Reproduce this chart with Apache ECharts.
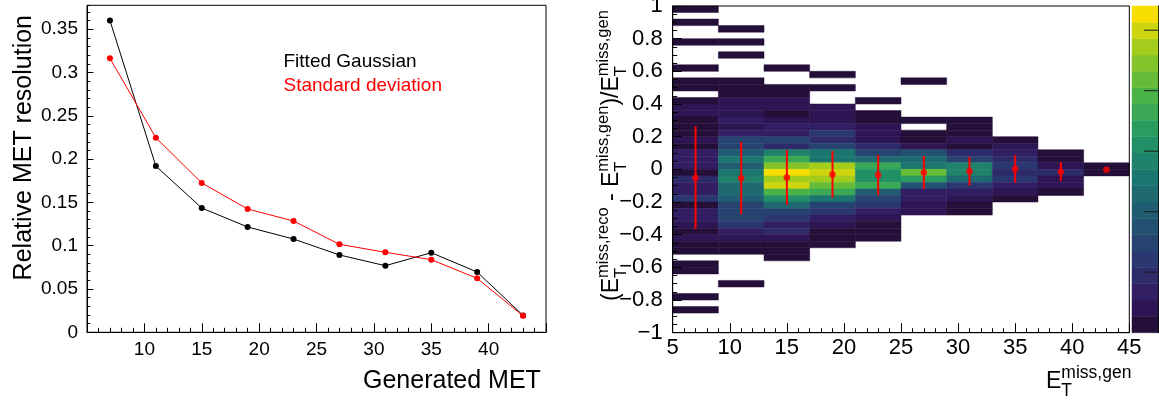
<!DOCTYPE html>
<html><head><meta charset="utf-8">
<script src="https://cdn.jsdelivr.net/npm/echarts@6/dist/echarts.min.js"></script>
<style>html,body{margin:0;padding:0;background:#fff}#c{width:1159px;height:400px}</style>
</head><body><div id="c"></div>
<script>
const FONT = '"Liberation Sans", Arial, Helvetica, sans-serif';

// ---------- Left panel: MET resolution ----------
const metX = [7, 11, 15, 19, 23, 27, 31, 35, 39, 43];
const gaussRes = [0.360, 0.192, 0.1435, 0.1216, 0.1077, 0.0893, 0.0769, 0.0919, 0.0696, 0.0195];
const stdRes = [0.3164, 0.2247, 0.1724, 0.1424, 0.1285, 0.1016, 0.0924, 0.0839, 0.0623, 0.019];
const legendNames = ['Fitted Gaussian', 'Standard deviation'];

// ---------- Right panel: 2D histogram (x bins of 4, y bins of 0.04 counted from y = 1 downward) ----------
const xBinEdges = [5, 9, 13, 17, 21, 25, 29, 33, 37, 41, 45];
const yBinTop = 1;
const yBinWidth = 0.04;
const colFirstBin = [0, 3, 9, 10, 14, 11, 17, 20, 22, 24];
const zCol1 = [0.7, null, 0.7, null, null, 0.7, null, null, null, 0.7,
               null, 0.7, 0.7, null, 0.7, 2.0, 2.0, 0.7, 0.7, 0.7,
               2.0, 0.7, 3.4, 3.4, 3.4, 0.7, 4.7, 3.4, 3.4, 6.1,
               0.7, 3.4, 3.4, 2.0, 0.7, 2.0, 0.7, 0.7, null, 0.7,
               0.7, null, null, null, 0.7, null, 0.7];
const zCol2 = [0.7, null, 0.7, null, 0.7, null, null, null, 0.7, 0.7,
               0.7, 2.0, 2.0, 2.0, 3.4, 2.0, 3.4, 7.4, 7.4, 10.1,
               12.8, 10.1, 12.8, 14.2, 11.5, 11.5, 10.1, 7.4, 7.4, 7.4,
               6.1, 3.4, 2.0, 0.7, 0.7, null, null, null, null, 0.7];
const zCol3 = [0.7, null, null, 0.7, 0.7, 2.0, 2.0, 0.7, 2.0, 3.4,
               3.4, 7.4, 4.7, 14.2, 18.2, 22.3, 26.3, 23.6, 25.0, 19.6,
               15.5, 11.5, 7.4, 6.1, 3.4, 4.7, 2.0, 0.7, 0.7, 0.7];
const zCol4 = [0.7, null, 0.7, null, null, 2.0, 2.0, 2.0, 3.4, 6.1,
               4.7, 7.4, 12.8, 12.8, 23.6, 25.0, 23.6, 20.9, 18.2, 12.8,
               7.4, 6.1, 3.4, 2.0, 0.7, 0.7, 0.7];
const zCol5 = [0.7, null, 0.7, 0.7, 2.0, 2.0, 2.0, 4.7, 7.4, 11.5,
               18.2, 15.5, 15.5, 18.2, 10.1, 7.4, 6.1, 3.4, 2.0, 0.7,
               0.7, 0.7];
const zCol6 = [0.7, null, null, null, null, null, 0.7, null, 0.7, 0.7,
               2.0, 8.8, 11.5, 12.8, 20.9, 16.9, 8.8, 3.4, 3.4, 2.0, 2.0];
const zCol7 = [0.7, 0.7, 0.7, 2.0, 0.7, 4.7, 7.4, 14.2, 14.2, 11.5, 6.1, 3.4, 2.0, 0.7, 0.7];
const zCol8 = [0.7, 2.0, 3.4, 4.7, 6.1, 4.7, 6.1, 3.4, 2.0, 0.7];
const zCol9 = [0.7, 0.7, 2.0, 4.7, 2.0, 2.0, 0.7];
const zCol10 = [0.7, 0.7];

// profile (mean and spread) per x bin
const profX = [7, 11, 15, 19, 23, 27, 31, 35, 39, 43];
const profMean = [-0.051, -0.054, -0.050, -0.031, -0.035, -0.019, -0.011, 0.002, -0.014, -0.002];
const profErr = [0.315, 0.222, 0.168, 0.143, 0.124, 0.101, 0.088, 0.084, 0.058, 0];

// colour scale
const zLevelEdges = [0, 1.35, 2.7, 4.05, 5.4, 6.75, 8.1, 9.45, 10.8, 12.15, 13.5,
                     14.85, 16.2, 17.55, 18.9, 20.25, 21.6, 22.95, 24.3, 25.65, 27];
const viridis20 = ['#240f38', '#2e1553', '#311e63', '#2e2b6a', '#2b3770', '#274471', '#235172',
                   '#205d72', '#1f6a71', '#1c7670', '#1f836c', '#229067', '#2b9c5f', '#3aa854',
                   '#4ab448', '#66bc39', '#82c42a', '#a4cc1c', '#cdd50e', '#f6de00'];
const colorbarTicks = [5, 10, 15, 20, 25];

// ---------- build data ----------
const zColumns = [zCol1, zCol2, zCol3, zCol4, zCol5, zCol6, zCol7, zCol8, zCol9, zCol10];
const cells = [];
zColumns.forEach((col, c) => {
  col.forEach((z, k) => {
    if (z == null) return;
    const i = colFirstBin[c] + k;
    const yTop = +(yBinTop - yBinWidth * i).toFixed(4);
    const yBot = +(yTop - yBinWidth).toFixed(4);
    cells.push([xBinEdges[c], xBinEdges[c + 1], yTop, yBot, z]);
  });
});
const errBars = profX.map((x, i) => [x, profMean[i] - profErr[i], profMean[i] + profErr[i], profErr[i]]);
const profPts = profX.map((x, i) => [x, profMean[i]]);
const cbarData = viridis20.map((c, k) => [k, zLevelEdges[k], zLevelEdges[k + 1]]);
const pieces = viridis20.map((c, k) => ({gte: zLevelEdges[k], lt: zLevelEdges[k + 1], color: c}));

// ---------- text helpers (TLatex-like sub/superscripts) ----------
const mctx = document.createElement('canvas').getContext('2d');
function tw(s, size) { mctx.font = size + 'px ' + FONT; return mctx.measureText(s).width; }
function textEl(s, x, baseline, size) {
  return {type: 'text', x: x, y: baseline - 0.3465 * size,
    style: {text: s, font: size + 'px ' + FONT, fill: '#000', textAlign: 'left',
            textVerticalAlign: 'middle', verticalAlign: 'middle'}};
}
function latex(parts, mainSize, scriptSize, rise, drop) {
  let x = 0; const els = [];
  parts.forEach(p => {
    if (p.t != null) { els.push(textEl(p.t, x, 0, mainSize)); x += tw(p.t, mainSize); }
    else {
      let w = 0;
      if (p.sub) { els.push(textEl(p.sub, x, drop, scriptSize)); w = Math.max(w, tw(p.sub, scriptSize)); }
      if (p.sup) { els.push(textEl(p.sup, x, -rise, scriptSize)); w = Math.max(w, tw(p.sup, scriptSize)); }
      x += w;
    }
  });
  return els;
}
const xTitleParts = [{t: 'E'}, {sub: 'T', sup: 'miss,gen'}];
const yTitleParts = [{t: '(E'}, {sub: 'T', sup: 'miss,reco'}, {t: ' - E'}, {sub: 'T', sup: 'miss,gen'},
                     {t: ')/E'}, {sub: 'T', sup: 'miss,gen'}];

const lblL = {color: '#000', fontFamily: FONT, fontSize: 19};
const lblR = {color: '#000', fontFamily: FONT, fontSize: 22};
const blackLine = {color: '#000', width: 1};

const chart = echarts.init(document.getElementById('c'), null, {renderer: 'canvas'});
chart.setOption({
  animation: false,
  backgroundColor: '#fff',
  grid: [
    {left: 87, top: 5.3, width: 459, height: 327, show: true, borderColor: '#000', borderWidth: 1,
     backgroundColor: 'transparent', outerBoundsMode: 'none', containLabel: false},
    {left: 672.7, top: 6, width: 456.6, height: 326.7, show: true, borderColor: '#000', borderWidth: 1,
     backgroundColor: 'transparent', outerBoundsMode: 'none', containLabel: false, z: 6},
    {left: 1132, top: 6, width: 26, height: 326.7, outerBoundsMode: 'none', containLabel: false},
    {left: 87, top: 5.3, width: 459, height: 327, outerBoundsMode: 'none', containLabel: false}
  ],
  xAxis: [
    {gridIndex: 0, type: 'value', min: 5, max: 45, interval: 5,
     axisLine: {show: true, onZero: false, lineStyle: blackLine},
     axisTick: {show: true, inside: true, length: 9, lineStyle: blackLine},
     minorTick: {show: true, splitNumber: 5, length: 4.5, lineStyle: blackLine},
     axisLabel: Object.assign({margin: 8, showMinLabel: false, showMaxLabel: false}, lblL),
     splitLine: {show: false}},
    {gridIndex: 1, type: 'value', min: 5, max: 45, interval: 5, z: 6,
     axisLine: {show: true, onZero: false, lineStyle: blackLine},
     axisTick: {show: true, inside: true, length: 9.5, lineStyle: blackLine},
     minorTick: {show: true, splitNumber: 5, length: 4.5, lineStyle: blackLine},
     axisLabel: Object.assign({margin: 4}, lblR),
     splitLine: {show: false}},
    {gridIndex: 2, type: 'value', min: 0, max: 1, show: false},
    {gridIndex: 3, type: 'value', min: 5, max: 45, show: false}
  ],
  yAxis: [
    {gridIndex: 0, type: 'value', min: 0, max: 0.3776, interval: 0.05,
     axisLine: {show: true, onZero: false, lineStyle: blackLine},
     axisTick: {show: true, inside: true, length: 6.5, lineStyle: blackLine},
     axisLabel: Object.assign({margin: 9, showMaxLabel: false}, lblL),
     splitLine: {show: false}},
    {gridIndex: 1, type: 'value', min: -1, max: 1, interval: 0.2, z: 6,
     axisLine: {show: true, onZero: false, lineStyle: blackLine},
     axisTick: {show: true, inside: true, length: 9, lineStyle: blackLine},
     minorTick: {show: true, splitNumber: 4, length: 4.5, lineStyle: blackLine},
     axisLabel: Object.assign({margin: 10, formatter: v => {
        const r = Math.round(v * 10) / 10; return (r === 0 ? '0' : String(r)).replace('-', '\u2212'); }}, lblR),
     splitLine: {show: false}},
    {gridIndex: 2, type: 'value', min: 0, max: 27, position: 'right',
     axisLine: {show: true, onZero: false, lineStyle: {color: '#000', width: 1}},
     axisTick: {show: false}, axisLabel: {show: false}, splitLine: {show: false}},
    {gridIndex: 3, type: 'value', min: 0, max: 0.3776, interval: 0.01,
     axisLine: {show: false, onZero: false},
     axisTick: {show: true, inside: true, length: 3.3, lineStyle: blackLine},
     axisLabel: {show: false}, splitLine: {show: false}}
  ],
  visualMap: {type: 'piecewise', show: false, seriesIndex: 2, dimension: 4, pieces: pieces},
  series: [
    {name: legendNames[0], type: 'line', xAxisIndex: 0, yAxisIndex: 0,
     data: metX.map((x, i) => [x, gaussRes[i]]), symbol: 'circle', symbolSize: 6, showSymbol: true,
     lineStyle: {color: '#000', width: 1}, itemStyle: {color: '#000'}, z: 3},
    {name: legendNames[1], type: 'line', xAxisIndex: 0, yAxisIndex: 0,
     data: metX.map((x, i) => [x, stdRes[i]]), symbol: 'circle', symbolSize: 6, showSymbol: true,
     lineStyle: {color: '#ff0000', width: 1}, itemStyle: {color: '#ff0000'}, z: 4},
    {name: 'Relative MET difference', type: 'custom', xAxisIndex: 1, yAxisIndex: 1, data: cells,
     encode: {x: [0, 1], y: [2, 3]}, z: 2,
     renderItem: (params, api) => {
       const p0 = api.coord([api.value(0), api.value(2)]);
       const p1 = api.coord([api.value(1), api.value(3)]);
       const c = api.visual('color');
       return {type: 'rect', shape: {x: p0[0], y: p0[1], width: p1[0] - p0[0], height: p1[1] - p0[1]},
               style: {fill: c, stroke: c, lineWidth: 0.5}};
     }},
    {name: 'Profile spread', type: 'custom', xAxisIndex: 1, yAxisIndex: 1, data: errBars,
     encode: {x: 0, y: [1, 2]}, z: 4,
     renderItem: (params, api) => {
       if (!(api.value(3) > 0)) return null;
       const a = api.coord([api.value(0), api.value(1)]);
       const b = api.coord([api.value(0), api.value(2)]);
       return {type: 'line', shape: {x1: a[0], y1: a[1], x2: b[0], y2: b[1]},
               style: {stroke: '#ff0000', lineWidth: 2}};
     }},
    {name: 'Profile mean', type: 'scatter', xAxisIndex: 1, yAxisIndex: 1, data: profPts,
     symbol: 'circle', symbolSize: 6.5, itemStyle: {color: '#ff0000'}, z: 5},
    {name: 'Colour scale', type: 'custom', xAxisIndex: 2, yAxisIndex: 2, data: cbarData,
     encode: {y: [1, 2]},
     renderItem: (params, api) => {
       const a = api.coord([0, api.value(2)]);
       const b = api.coord([1, api.value(1)]);
       const c = viridis20[api.value(0)];
       return {type: 'rect', shape: {x: a[0], y: a[1], width: b[0] - a[0], height: b[1] - a[1]},
               style: {fill: c, stroke: c, lineWidth: 0.5}};
     }},
    {name: 'Colour scale ticks', type: 'custom', xAxisIndex: 2, yAxisIndex: 2,
     data: colorbarTicks.map(v => [v]), encode: {y: 0}, z: 3,
     renderItem: (params, api) => {
       const p = api.coord([1, api.value(0)]);
       return {type: 'line', shape: {x1: p[0] - 14, y1: p[1], x2: p[0], y2: p[1]},
               style: {stroke: '#1a1a1a', lineWidth: 1}};
     }}
  ],
  graphic: [
    {type: 'text', x: 24.6, y: 15, rotation: Math.PI / 2,
     style: {text: 'Relative MET resolution', font: '25px ' + FONT, fill: '#000',
             textAlign: 'right', textVerticalAlign: 'middle', verticalAlign: 'middle'}},
    {type: 'text', x: 363, y: 381.3,
     style: {text: 'Generated MET', font: '25px ' + FONT, fill: '#000',
             textAlign: 'left', textVerticalAlign: 'middle', verticalAlign: 'middle'}},
    {type: 'text', x: 283.5, y: 61.7,
     style: {text: legendNames[0], font: '19px ' + FONT, fill: '#000',
             textAlign: 'left', textVerticalAlign: 'middle', verticalAlign: 'middle'}},
    {type: 'text', x: 283.5, y: 86.1,
     style: {text: legendNames[1], font: '19px ' + FONT, fill: '#ff0000',
             textAlign: 'left', textVerticalAlign: 'middle', verticalAlign: 'middle'}},
    {type: 'group', x: 1046, y: 390, children: latex(xTitleParts, 23, 17.5, 11, 7.3)},
    {type: 'group', x: 620, y: 301, rotation: Math.PI / 2, children: latex(yTitleParts, 23, 16.5, 11, 7.3)}
  ]
});
</script>
</body></html>
